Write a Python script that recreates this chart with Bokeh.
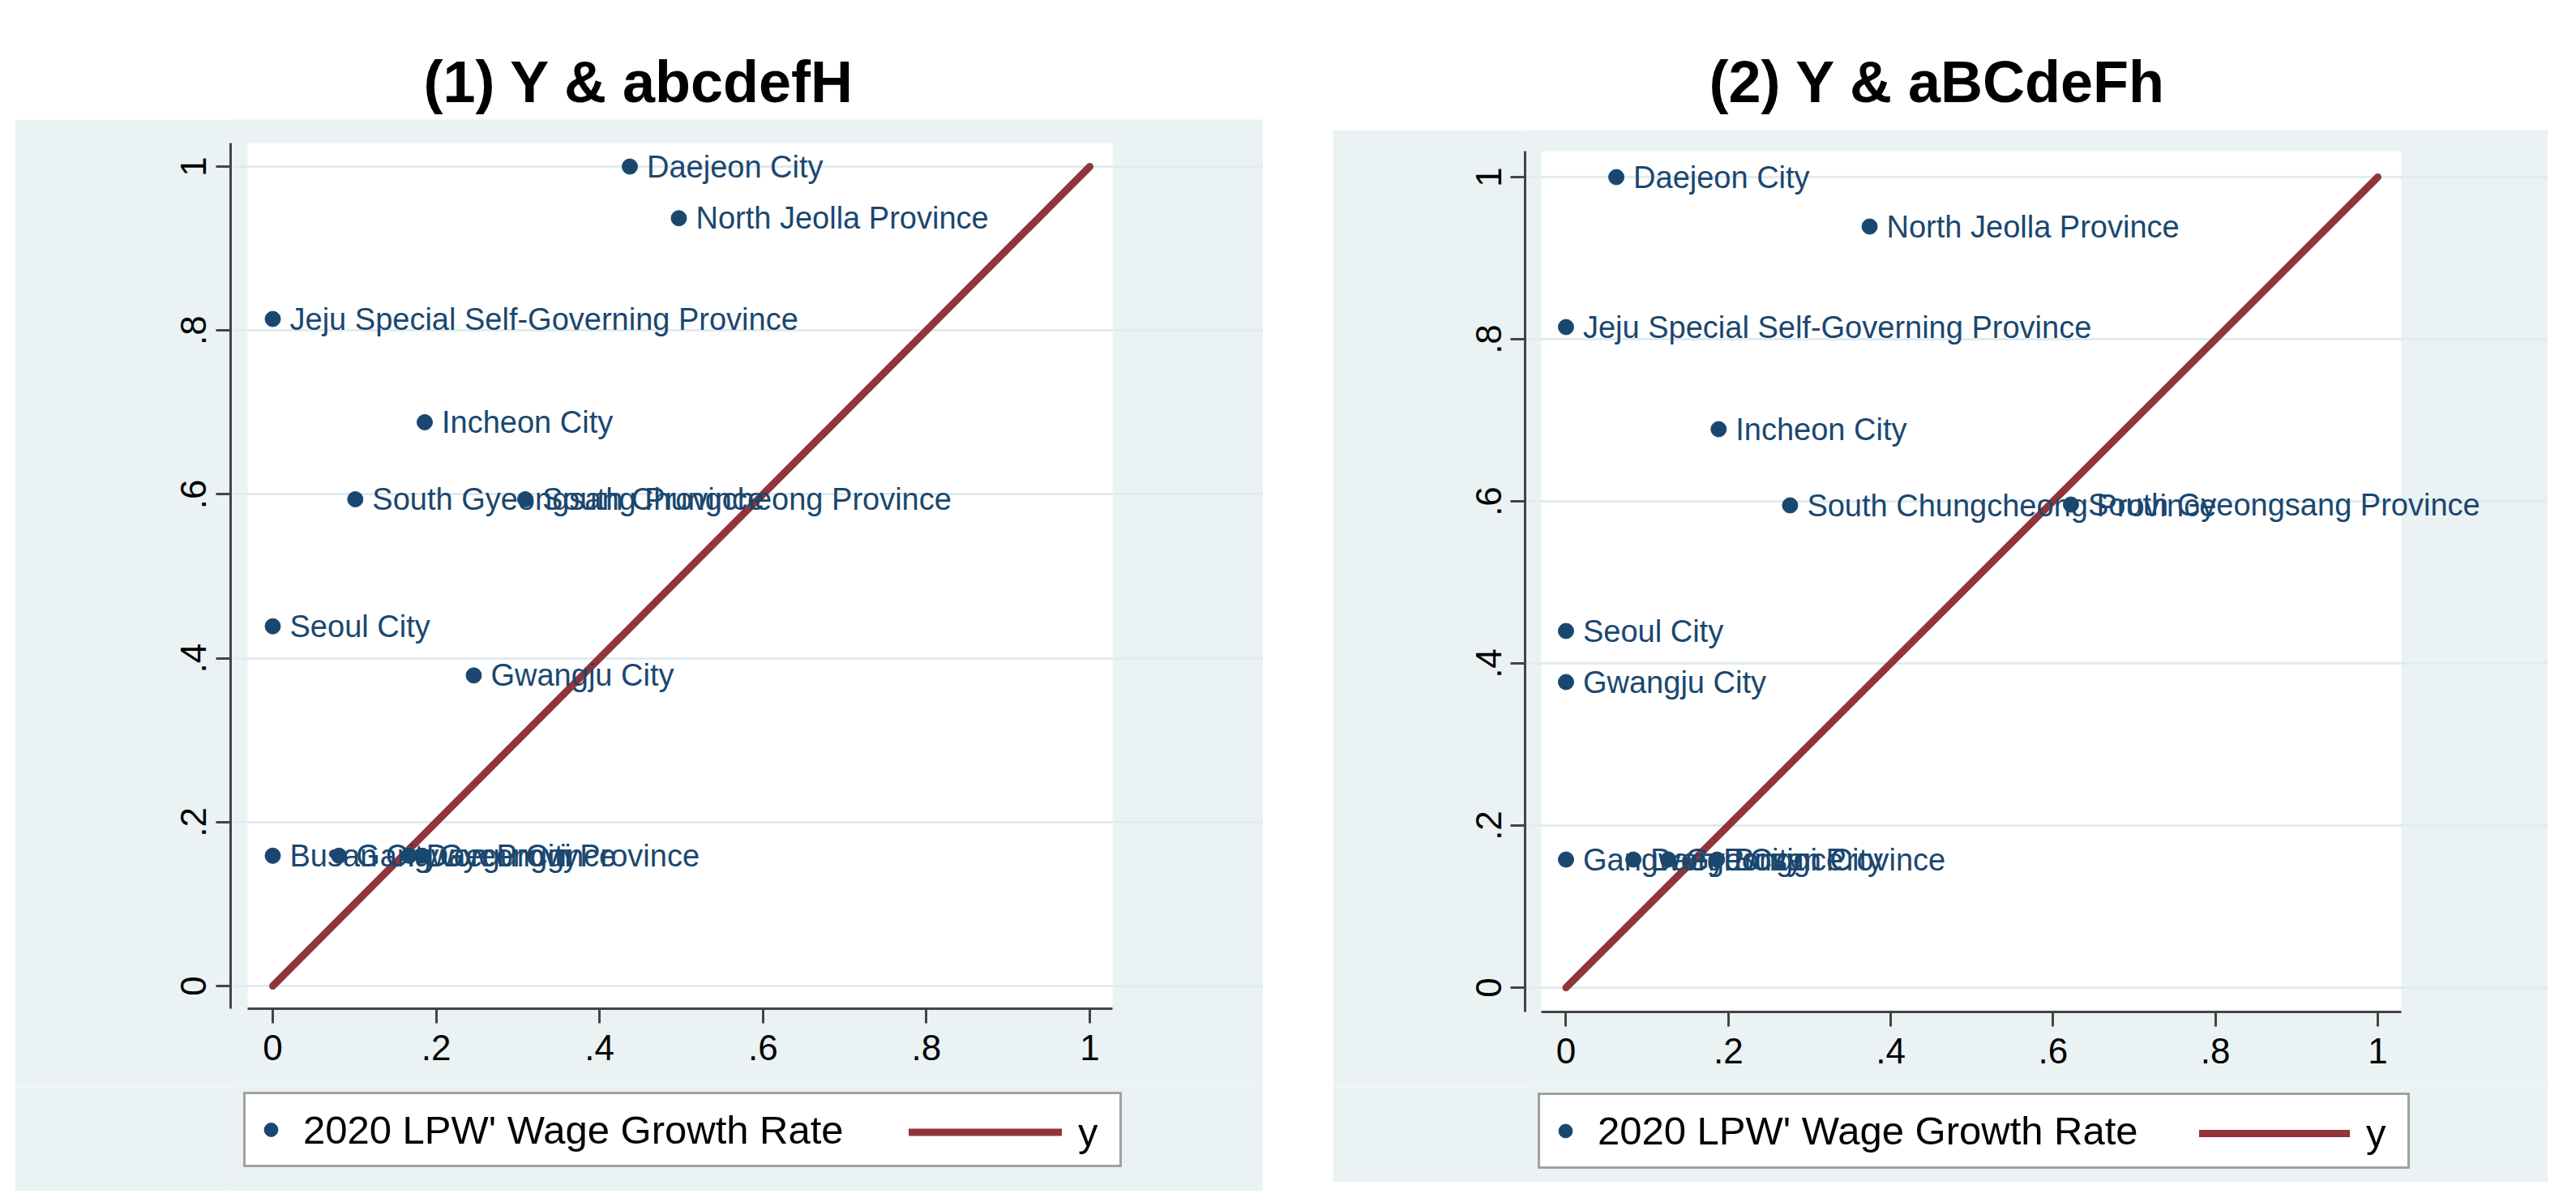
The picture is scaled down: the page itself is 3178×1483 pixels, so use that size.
from bokeh.plotting import figure
from bokeh.models import (Range1d, FixedTicker, BoxAnnotation, Legend, LegendItem,
                          Label, Spacer, ColumnDataSource)
from bokeh.layouts import row, column
from bokeh.core.properties import value
from bokeh.embed import file_html
from bokeh.resources import INLINE

# ---------------- data ----------------
tick_vals = [0, 0.2, 0.4, 0.6, 0.8, 1.0]
tick_labels = ["0", ".2", ".4", ".6", ".8", "1"]

title1 = "(1) Y & abcdefH"
regions1 = ["Daejeon City", "North Jeolla Province", "Jeju Special Self-Governing Province",
            "Incheon City", "South Gyeongsang Province", "South Chungcheong Province",
            "Seoul City", "Gwangju City", "Busan City", "Gangwon Province",
            "Daegu City", "Gyeonggi Province"]
x1 = [0.437, 0.497, 0.0, 0.186, 0.101, 0.309, 0.0, 0.246, 0.0, 0.081, 0.167, 0.183]
y1 = [1.0, 0.937, 0.814, 0.688, 0.594, 0.594, 0.439, 0.379, 0.159, 0.159, 0.159, 0.159]

title2 = "(2) Y & aBCdeFh"
regions2 = ["Daejeon City", "North Jeolla Province", "Jeju Special Self-Governing Province",
            "Incheon City", "South Chungcheong Province", "South Gyeongsang Province",
            "Seoul City", "Gwangju City", "Gangwon Province", "Daegu City",
            "Gyeonggi Province", "Busan City"]
x2 = [0.062, 0.374, 0.0, 0.188, 0.276, 0.622, 0.0, 0.0, 0.0, 0.083, 0.126, 0.186]
y2 = [1.0, 0.939, 0.815, 0.689, 0.595, 0.596, 0.44, 0.377, 0.158, 0.158, 0.158, 0.158]

diag_x = [0, 1]
diag_y = [0, 1]

series_label = "2020 LPW' Wage Growth Rate"
line_label = "y"

# ---------------- style ----------------
NAVY = "#1A476F"
MAROON = "#90353B"
BG = "#EAF2F3"
GRID = "#E2EBEE"
AXIS = "#444444"
FONT = "Liberation Sans"
NAN = float("nan")


def bare_fig(w, h, bl, fill):
    # frame spans local pixels [bl, w] horizontally, [0, h] vertically
    f = figure(width=w, height=h, x_range=Range1d(bl, w), y_range=Range1d(0, h),
               toolbar_location=None, output_backend="svg",
               min_border_left=bl, min_border_right=0, min_border_top=0, min_border_bottom=0,
               x_axis_location=None, y_axis_location=None,
               background_fill_color=fill, border_fill_color=fill,
               outline_line_color=None)
    f.grid.visible = False
    return f


def make_title(text, w, h, bl, cx, base_y):
    t = bare_fig(w, h, bl, "white")
    t.add_layout(Label(x=cx, y=base_y, text=text, text_align="center",
                       text_baseline="alphabetic", text_font=FONT,
                       text_font_style="bold", text_font_size="72px",
                       text_color="black"))
    return t


def make_panel(names, xs, ys, g):
    p = figure(width=g["w"], height=g["h"],
               x_range=Range1d(*g["xr"]), y_range=Range1d(*g["yr"]),
               min_border_left=g["bl"], min_border_right=0,
               min_border_top=0, min_border_bottom=g["bb"],
               toolbar_location=None, output_backend="svg",
               background_fill_color=BG, border_fill_color=BG,
               outline_line_color=None)
    # white plot region (Stata plotregion, offset from the y axis)
    p.add_layout(BoxAnnotation(left=g["wl"], right=g["wr"], top=g["wt"],
                               fill_color="white", fill_alpha=1.0,
                               line_color=None, level="image"))

    p.xgrid.visible = False
    p.ygrid.ticker = FixedTicker(ticks=tick_vals)
    p.ygrid.grid_line_color = GRID
    p.ygrid.grid_line_width = 3
    p.ygrid.bounds = (g["wl"], g["wr"])

    overrides = {v: s for v, s in zip(tick_vals, tick_labels)}
    for ax in (p.xaxis[0], p.yaxis[0]):
        ax.ticker = FixedTicker(ticks=tick_vals)
        ax.major_label_overrides = overrides
        ax.axis_line_color = AXIS
        ax.axis_line_width = 3
        ax.major_tick_line_color = AXIS
        ax.major_tick_line_width = 3
        ax.major_tick_out = 18
        ax.major_tick_in = 0
        ax.minor_tick_line_color = None
        ax.major_label_text_font = FONT
        ax.major_label_text_font_size = "44px"
        ax.major_label_text_color = "black"
    p.xaxis[0].bounds = (g["wl"], g["wr"])
    p.xaxis[0].major_label_standoff = 14
    p.yaxis[0].bounds = (g["yr"][0], g["wt"])
    p.yaxis[0].major_label_orientation = "vertical"
    p.yaxis[0].major_label_standoff = 12

    src = ColumnDataSource(dict(x=xs, y=ys, name=names))
    p.line(diag_x, diag_y, line_color=MAROON, line_width=9, line_cap="round")
    p.scatter("x", "y", source=src, size=19, fill_color=NAVY, line_color=NAVY)
    p.text("x", "y", text="name", source=src, x_offset=21, text_baseline="middle",
           text_align="left", text_font=value(FONT), text_font_size="38px",
           text_color=NAVY)
    return p


def make_legend(g):
    f = bare_fig(g["w"], g["lh"], g["bl"], BG)
    # legend keys only (nothing is drawn in the frame itself)
    pts = f.scatter([NAN], [NAN], size=19, fill_color=NAVY, line_color=NAVY)
    ln = f.line([NAN, NAN], [NAN, NAN], line_color=MAROON, line_width=9, line_cap="round")
    ih = g["leg_h"] - 20
    legA = Legend(items=[LegendItem(label=series_label, renderers=[pts])],
                  location=(g["leg_x"], g["leg_y"]), orientation="horizontal",
                  padding=10, margin=0, glyph_width=42, glyph_height=ih,
                  label_height=ih, label_standoff=19,
                  label_width=g["leg_w"] - 20 - 42 - 19,
                  label_text_font=FONT, label_text_font_size="49px",
                  label_text_color="black",
                  border_line_color=AXIS, border_line_width=3,
                  background_fill_color="white", background_fill_alpha=1.0)
    legB = Legend(items=[LegendItem(label=line_label, renderers=[ln])],
                  location=(g["legB_x"], g["leg_y"]), orientation="horizontal",
                  padding=10, margin=0, glyph_width=g["line_w"], glyph_height=ih,
                  label_height=ih, label_standoff=20,
                  label_text_font=FONT, label_text_font_size="49px",
                  label_text_color="black",
                  border_line_alpha=0, background_fill_alpha=0)
    f.add_layout(legA)
    f.add_layout(legB)
    return f


g1 = dict(w=1540, h=1193, bl=266, bb=96, lh=129,
          xr=(-0.0516, 1.2123), yr=(-0.0277, 1.0574), wl=-0.0308, wr=1.0278, wt=1.0287,
          leg_x=16, leg_y=29, leg_w=1078, leg_h=87, legB_x=827, line_w=189)
g2 = dict(w=1499, h=1180, bl=237, bb=92, lh=118,
          xr=(-0.0504, 1.2097), yr=(-0.030, 1.058), wl=-0.0305, wr=1.029, wt=1.032,
          leg_x=16, leg_y=16, leg_w=1070, leg_h=88, legB_x=822, line_w=186)

t1 = make_title(title1, 1540, 147, 266, 770, 47)
t2 = make_title(title2, 1499, 160, 237, 746, 60)
p1 = make_panel(regions1, x1, y1, g1)
p2 = make_panel(regions2, x2, y2, g2)
l1 = make_legend(g1)
l2 = make_legend(g2)

layout = row(Spacer(width=18, height=10), column(t1, p1, l1),
             Spacer(width=86, height=10), column(t2, p2, l2))

open("out.html", "w").write(file_html(layout, INLINE))
